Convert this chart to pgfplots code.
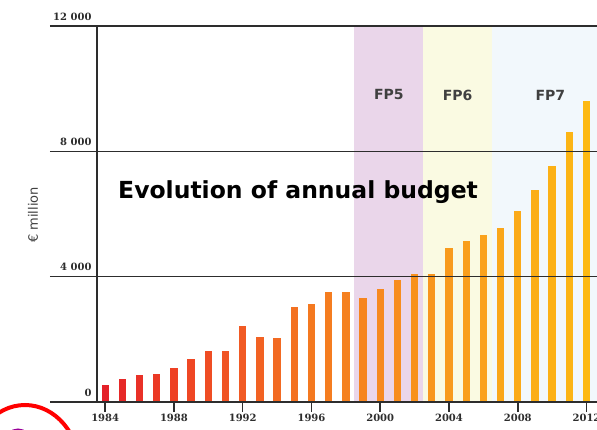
\documentclass[border=0pt]{standalone}
\usepackage{pgfplots}
\pgfplotsset{compat=1.18}
\usepackage{fontspec}
\setmainfont{DejaVu Sans}
\newfontfamily\tickfont{DejaVu Serif}
\definecolor{c0}{RGB}{228,33,41}
\definecolor{c1}{RGB}{238,65,36}
\definecolor{c2}{RGB}{241,90,36}
\definecolor{c3}{RGB}{244,121,32}
\definecolor{c4}{RGB}{247,137,31}
\definecolor{c5}{RGB}{248,154,28}
\definecolor{c6}{RGB}{251,170,25}
\definecolor{c7}{RGB}{253,185,19}
\definecolor{fpfive}{RGB}{234,214,234}
\definecolor{fpsix}{RGB}{250,250,226}
\definecolor{fpseven}{RGB}{242,248,252}
\definecolor{gridc}{RGB}{45,45,45}
\begin{document}
\begin{tikzpicture}
\path[use as bounding box] (-50pt,-27pt) rectangle (547pt,402pt);
\clip (-50pt,-27pt) rectangle (547pt,402pt);
\begin{axis}[
  at={(0pt,0pt)}, anchor=south west,
  width=547pt, height=376pt, scale only axis,
  xmin=1980.79, xmax=2012.61, ymin=0, ymax=12000,
  axis line style={draw=none},
  axis on top,
  clip=false,
  scaled y ticks=false,
  ymajorgrids, grid style={gridc, line width=1.5pt},
  ytick={0,4000,8000,12000},
  yticklabels={0,{4 000},{8 000},{12 000}},
  ytick style={draw=none},
  ytick pos=left,
  yticklabel style={font=\tickfont\bfseries\fontsize{10}{12}\selectfont, text=gridc, anchor=south east, xshift=45pt, yshift=2pt},
  xtick={1984,1988,1992,1996,2000,2004,2008,2012},
  xticklabels={1984,1988,1992,1996,2000,2004,2008,2012},
  xtick pos=bottom,
  xtick align=outside,
  major tick length=10pt,
  xtick style={gridc, line width=1.5pt},
  xticklabel style={font=\tickfont\bfseries\fontsize{10}{12}\selectfont, text=gridc, yshift=1pt},
]
% framework programme bands
\fill[fpfive] (axis cs:1998.5,0) rectangle (axis cs:2002.5,12000);
\fill[fpsix] (axis cs:2002.5,0) rectangle (axis cs:2006.5,12000);
\fill[fpseven] (axis cs:2006.5,0) rectangle (axis cs:2012.61,12000);
% y axis line
\draw[gridc, line width=1.5pt] (axis cs:1983.52,0) -- (axis cs:1983.52,12000);
% bars
\pgfplotsset{bb/.style={ybar, bar width=7.3pt, bar shift=0pt, draw=none}}
\addplot[bb, fill=c0] coordinates {(1984,550)};
\addplot[bb, fill=c1!25!c0] coordinates {(1985,730)};
\addplot[bb, fill=c1!50!c0] coordinates {(1986,850)};
\addplot[bb, fill=c1!75!c0] coordinates {(1987,900)};
\addplot[bb, fill=c1] coordinates {(1988,1080)};
\addplot[bb, fill=c2!25!c1] coordinates {(1989,1370)};
\addplot[bb, fill=c2!50!c1] coordinates {(1990,1620)};
\addplot[bb, fill=c2!75!c1] coordinates {(1991,1620)};
\addplot[bb, fill=c2] coordinates {(1992,2430)};
\addplot[bb, fill=c3!25!c2] coordinates {(1993,2080)};
\addplot[bb, fill=c3!50!c2] coordinates {(1994,2030)};
\addplot[bb, fill=c3!75!c2] coordinates {(1995,3020)};
\addplot[bb, fill=c3] coordinates {(1996,3130)};
\addplot[bb, fill=c4!25!c3] coordinates {(1997,3500)};
\addplot[bb, fill=c4!50!c3] coordinates {(1998,3500)};
\addplot[bb, fill=c4!75!c3] coordinates {(1999,3320)};
\addplot[bb, fill=c4] coordinates {(2000,3610)};
\addplot[bb, fill=c5!25!c4] coordinates {(2001,3900)};
\addplot[bb, fill=c5!50!c4] coordinates {(2002,4090)};
\addplot[bb, fill=c5!75!c4] coordinates {(2003,4090)};
\addplot[bb, fill=c5] coordinates {(2004,4910)};
\addplot[bb, fill=c6!25!c5] coordinates {(2005,5150)};
\addplot[bb, fill=c6!50!c5] coordinates {(2006,5320)};
\addplot[bb, fill=c6!75!c5] coordinates {(2007,5550)};
\addplot[bb, fill=c6] coordinates {(2008,6100)};
\addplot[bb, fill=c7!25!c6] coordinates {(2009,6770)};
\addplot[bb, fill=c7!50!c6] coordinates {(2010,7520)};
\addplot[bb, fill=c7!75!c6] coordinates {(2011,8630)};
\addplot[bb, fill=c7] coordinates {(2012,9620)};
% programme labels
\node[font=\bfseries\fontsize{14}{16}\selectfont, text=black!75] at (axis cs:2000.5,9800) {FP5};
\node[font=\bfseries\fontsize{14}{16}\selectfont, text=black!75] at (axis cs:2004.5,9800) {FP6};
\node[font=\bfseries\fontsize{14}{16}\selectfont, text=black!75] at (axis cs:2009.9,9800) {FP7};
\end{axis}
\node[anchor=base west, inner sep=0pt, font=\bfseries\fontsize{23.5}{26}\selectfont] at (68pt,203.7pt) {Evolution of annual budget};
\node[rotate=90, font=\fontsize{13}{15}\selectfont, text=black!75] at (-17pt,187pt) {€ million};
% annotation marks from the slide
\draw[red, line width=4pt] (-25pt,-68pt) ellipse [x radius=55pt, y radius=65pt];
\draw[violet!80!magenta, line width=3pt] (-32pt,-40pt) circle [radius=12pt];
\end{tikzpicture}
\end{document}
